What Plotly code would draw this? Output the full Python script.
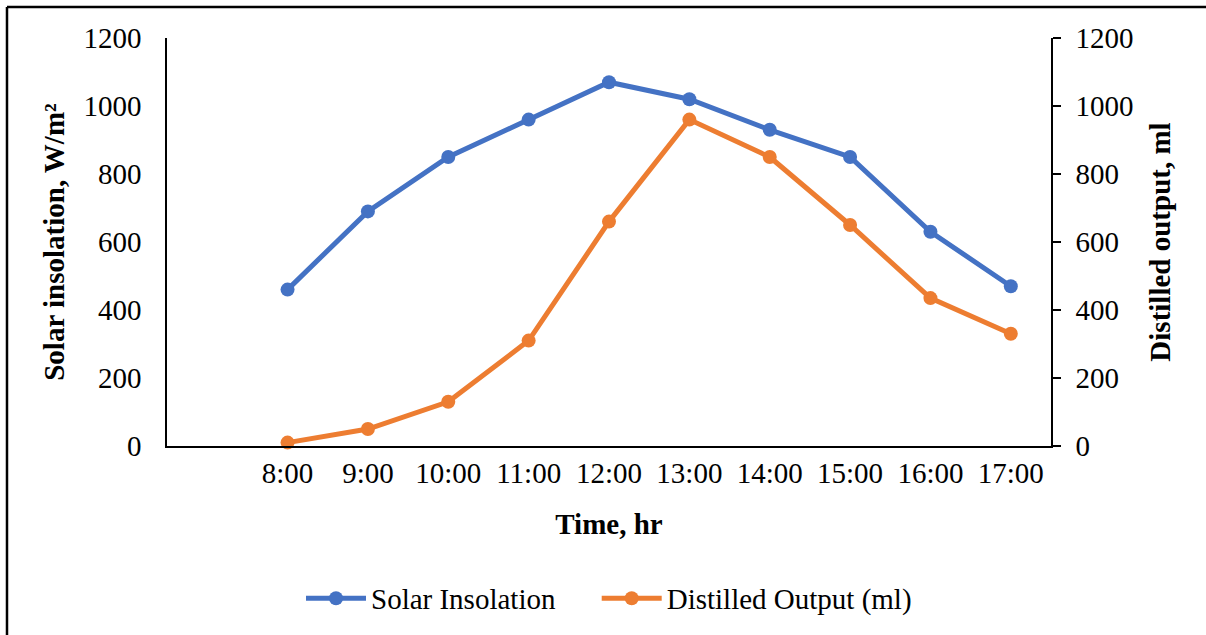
import plotly.graph_objects as go

times = ["8:00", "9:00", "10:00", "11:00", "12:00", "13:00", "14:00", "15:00", "16:00", "17:00"]
solar = [460, 690, 850, 960, 1070, 1020, 930, 850, 630, 470]
distilled = [10, 50, 130, 310, 660, 960, 850, 650, 435, 330]
series_names = ["Solar Insolation", "Distilled Output (ml)"]

# first slot of the category axis is empty in the original
x_pos = [i + 1 for i in range(len(times))]

BLUE = "#4472C4"
ORANGE = "#ED7D31"
FONT = "Liberation Serif"
FS = 29
PAD = "\u00a0" * 5  # extra spacing between legend entries

fig = go.Figure()
fig.add_trace(go.Scatter(
    x=x_pos, y=solar, name=series_names[0] + PAD, mode="lines+markers",
    line=dict(color=BLUE, width=5), marker=dict(color=BLUE, size=14),
    yaxis="y", cliponaxis=False,
))
fig.add_trace(go.Scatter(
    x=x_pos, y=distilled, name=series_names[1], mode="lines+markers",
    line=dict(color=ORANGE, width=5), marker=dict(color=ORANGE, size=14),
    yaxis="y2", cliponaxis=False,
))

fig.update_layout(
    width=1206, height=635,
    margin=dict(l=167, r=155, t=38, b=188),
    paper_bgcolor="white", plot_bgcolor="white",
    font=dict(family=FONT, size=FS, color="black"),
    showlegend=True,
    legend=dict(orientation="h", x=0.5, xanchor="center", y=-0.37, yanchor="middle",
                font=dict(size=FS), itemwidth=60),
    xaxis=dict(
        range=[-0.5, len(times) + 0.5], tickmode="array",
        tickvals=x_pos, ticktext=times, showgrid=False, zeroline=False,
        showline=True, linecolor="black", linewidth=2, ticks="",
        tickfont=dict(size=FS), ticklabelstandoff=0,
        title=dict(text="<b>Time, hr</b>", font=dict(size=FS), standoff=26),
    ),
    yaxis=dict(
        range=[0, 1200], dtick=200, showgrid=False, zeroline=False,
        showline=True, linecolor="black", linewidth=1.5, ticks="",
        tickfont=dict(size=FS), ticklabelstandoff=18,
        title=dict(text="<b>Solar insolation, W/m²</b>", font=dict(size=FS), standoff=10),
    ),
    yaxis2=dict(
        range=[0, 1200], dtick=200, overlaying="y", side="right",
        showgrid=False, zeroline=False, showline=True, linecolor="black", linewidth=1.5,
        ticks="outside", ticklen=8, tickcolor="black", tickwidth=1.5,
        tickfont=dict(size=FS), ticklabelstandoff=9,
        title=dict(text="<b>Distilled output, ml</b>", font=dict(size=FS), standoff=17),
    ),
    shapes=[
        dict(type="line", xref="paper", yref="paper", x0=-0.181, x1=1.2, y0=1.0758, y1=1.0758,
             line=dict(color="black", width=2.5)),
        dict(type="line", xref="paper", yref="paper", x0=-0.181, x1=-0.181, y0=1.0758, y1=-0.5,
             line=dict(color="black", width=2.5)),
    ],
)

fig.write_html(
    "out.html",
    config={"displayModeBar": False},
    post_script="document.body.style.margin='0';document.body.style.overflow='hidden';",
)
